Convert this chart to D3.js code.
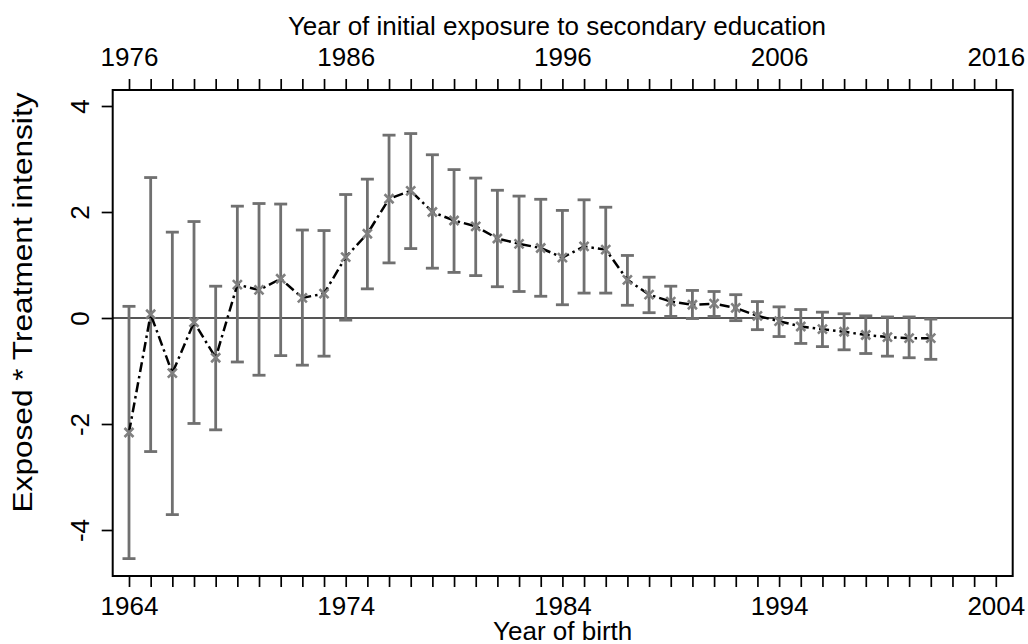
<!DOCTYPE html>
<html>
<head>
<meta charset="utf-8">
<script src="https://cdn.jsdelivr.net/npm/d3@7"></script>
<style>
  body { margin: 0; background: #fff; }
  svg { display: block; }
  text { font-family: "Liberation Sans", Arial, Helvetica, sans-serif; fill: #000; }
</style>
</head>
<body>
<svg id="chart" width="1028" height="644"></svg>
<script>
// Event-study coefficients by year of birth, with 95% confidence bounds
const birthYears = [1964,1965,1966,1967,1968,1969,1970,1971,1972,1973,
                    1974,1975,1976,1977,1978,1979,1980,1981,1982,1983,
                    1984,1985,1986,1987,1988,1989,1990,1991,1992,1993,
                    1994,1995,1996,1997,1998,1999,2000,2001];
const coef    = [-2.16, 0.07,-1.04,-0.08,-0.75, 0.63, 0.53, 0.74, 0.38, 0.46,
                  1.15, 1.59, 2.25, 2.40, 2.00, 1.84, 1.73, 1.50, 1.40, 1.32,
                  1.14, 1.35, 1.29, 0.72, 0.44, 0.31, 0.25, 0.27, 0.19, 0.04,
                 -0.06,-0.16,-0.21,-0.26,-0.32,-0.36,-0.38,-0.38];
const ciUpper = [ 0.22, 2.65, 1.62, 1.82, 0.60, 2.11, 2.16, 2.15, 1.66, 1.65,
                  2.33, 2.62, 3.45, 3.48, 3.08, 2.80, 2.64, 2.41, 2.30, 2.24,
                  2.03, 2.23, 2.09, 1.18, 0.77, 0.60, 0.52, 0.50, 0.44, 0.31,
                  0.21, 0.16, 0.11, 0.08, 0.04, 0.02, 0.02,-0.02];
const ciLower = [-4.54,-2.52,-3.71,-1.99,-2.11,-0.83,-1.08,-0.71,-0.89,-0.72,
                 -0.04, 0.55, 1.04, 1.31, 0.94, 0.86, 0.80, 0.59, 0.50, 0.41,
                  0.25, 0.47, 0.47, 0.24, 0.10, 0.03,-0.01, 0.03,-0.05,-0.22,
                 -0.35,-0.48,-0.54,-0.60,-0.67,-0.72,-0.75,-0.78];

const birthTicks    = [1964, 1974, 1984, 1994, 2004];
const exposureTicks = [1976, 1986, 1996, 2006, 2016];
const yTicks        = [-4, -2, 0, 2, 4];

const svg = d3.select("#chart");
svg.append("rect").attr("width", 1028).attr("height", 644).attr("fill", "#fff");

const box = { left: 112.7, right: 1012.7, top: 90, bottom: 576 };

const x    = d3.scaleLinear().domain([1964, 2004]).range([129, 995.8]);
const xTop = d3.scaleLinear().domain([1976, 2016]).range([129, 995.8]);
const y    = d3.scaleLinear().domain([-4, 4]).range([530, 106]);

const data = birthYears.map((yr, i) => ({ yr, b: coef[i], hi: ciUpper[i], lo: ciLower[i] }));

// zero reference line
svg.append("line")
  .attr("x1", box.left).attr("x2", box.right)
  .attr("y1", y(0)).attr("y2", y(0))
  .attr("stroke", "#555").attr("stroke-width", 2);

// confidence intervals
const ciColor = "#707070";
const capHalf = 6.5;
const ci = svg.append("g").attr("stroke", ciColor).attr("stroke-width", 2.8).attr("fill", "none");
ci.selectAll("line.bar").data(data).join("line").attr("class", "bar")
  .attr("x1", d => x(d.yr)).attr("x2", d => x(d.yr))
  .attr("y1", d => y(d.hi)).attr("y2", d => y(d.lo));
ci.selectAll("line.capHi").data(data).join("line").attr("class", "capHi")
  .attr("x1", d => x(d.yr) - capHalf).attr("x2", d => x(d.yr) + capHalf)
  .attr("y1", d => y(d.hi)).attr("y2", d => y(d.hi));
ci.selectAll("line.capLo").data(data).join("line").attr("class", "capLo")
  .attr("x1", d => x(d.yr) - capHalf).attr("x2", d => x(d.yr) + capHalf)
  .attr("y1", d => y(d.lo)).attr("y2", d => y(d.lo));

// point estimates joined by a dash-dot line
svg.append("path").datum(data)
  .attr("fill", "none").attr("stroke", "#000").attr("stroke-width", 2.5)
  .attr("stroke-dasharray", "10,4,2.5,4")
  .attr("d", d3.line().x(d => x(d.yr)).y(d => y(d.b)));

// X markers
const m = 4.5;
svg.append("g").attr("stroke", "#808080").attr("stroke-width", 2.6)
  .selectAll("path").data(data).join("path")
  .attr("d", d => {
    const cx = x(d.yr), cy = y(d.b);
    return `M${cx - m},${cy - m}L${cx + m},${cy + m}M${cx - m},${cy + m}L${cx + m},${cy - m}`;
  });

// plot region frame
svg.append("rect")
  .attr("x", box.left).attr("y", box.top)
  .attr("width", box.right - box.left).attr("height", box.bottom - box.top)
  .attr("fill", "none").attr("stroke", "#000").attr("stroke-width", 2);

const fontSize = 26;
const allBirth = d3.range(1964, 2005);
const allExposure = d3.range(1976, 2017);

// bottom axis: year of birth
const gB = svg.append("g").attr("transform", `translate(0,${box.bottom})`)
  .call(d3.axisBottom(x).tickValues(allBirth).tickSize(11)
    .tickFormat(d => birthTicks.includes(d) ? String(d) : ""));
gB.select(".domain").remove();
gB.selectAll(".tick line").attr("stroke", "#000").attr("stroke-width", 1.7);
gB.selectAll(".tick text").attr("y", 39).attr("dy", null)
  .style("font-size", fontSize + "px").attr("fill", "#000");

// top axis: year of initial exposure
const gT = svg.append("g").attr("transform", `translate(0,${box.top})`)
  .call(d3.axisTop(xTop).tickValues(allExposure).tickSize(11)
    .tickFormat(d => exposureTicks.includes(d) ? String(d) : ""));
gT.select(".domain").remove();
gT.selectAll(".tick line").attr("stroke", "#000").attr("stroke-width", 1.7);
gT.selectAll(".tick text").attr("y", -24.3).attr("dy", null)
  .style("font-size", fontSize + "px").attr("fill", "#000");

// left axis with rotated labels (plain hyphen for negatives)
const gL = svg.append("g").attr("transform", `translate(${box.left},0)`)
  .call(d3.axisLeft(y).tickValues(yTicks).tickSize(11).tickFormat(d => String(d)));
gL.select(".domain").remove();
gL.selectAll(".tick line").attr("stroke", "#000").attr("stroke-width", 1.7);
gL.selectAll(".tick text")
  .attr("x", null).attr("dy", null).attr("text-anchor", "middle")
  .attr("transform", `translate(${89 - box.left},0) rotate(-90)`)
  .style("font-size", fontSize + "px").attr("fill", "#000");

// axis titles
svg.append("text").attr("x", 562.7).attr("y", 640).attr("text-anchor", "middle")
  .style("font-size", fontSize + "px").text("Year of birth");
svg.append("text").attr("x", 557).attr("y", 35).attr("text-anchor", "middle")
  .style("font-size", fontSize + "px").text("Year of initial exposure to secondary education");
svg.append("text")
  .attr("transform", "translate(32,302.5) rotate(-90)")
  .attr("text-anchor", "middle")
  .style("font-size", "28px")
  .attr("textLength", 420).attr("lengthAdjust", "spacingAndGlyphs")
  .text("Exposed * Treatment intensity");
</script>
</body>
</html>
